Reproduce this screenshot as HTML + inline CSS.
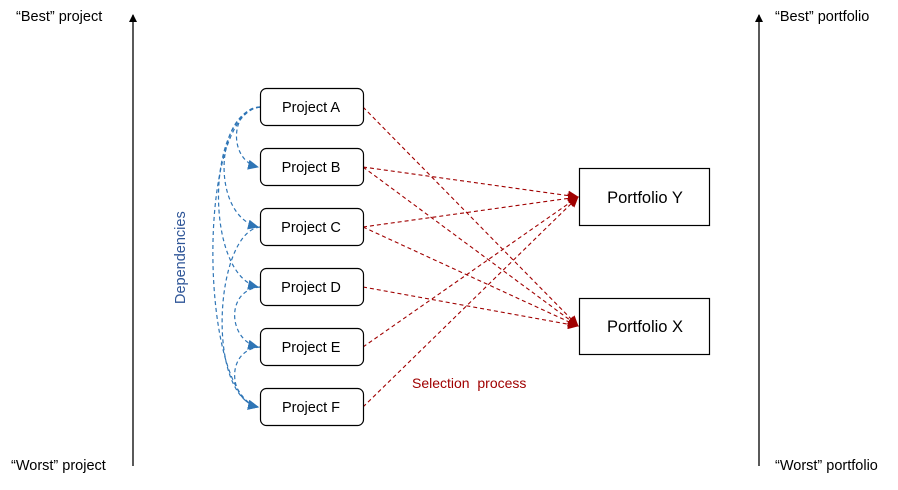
<!DOCTYPE html>
<html><head><style>
body{margin:0;background:#fff;width:898px;height:485px;overflow:hidden}
text{font-family:"Liberation Sans",sans-serif}
</style></head><body>
<svg width="898" height="485" viewBox="0 0 898 485" xmlns="http://www.w3.org/2000/svg">
<defs>
<marker id="ak" markerWidth="8" markerHeight="8" refX="7" refY="4" orient="auto" markerUnits="userSpaceOnUse"><path d="M0,0 L8,4 L0,8 z" fill="#000"/></marker>
<marker id="ar" markerWidth="11" markerHeight="10" refX="10" refY="5" orient="auto" markerUnits="userSpaceOnUse"><path d="M0,0 L11,5 L0,10 z" fill="#a00000"/></marker>
<marker id="ab" markerWidth="11" markerHeight="10" refX="10" refY="5" orient="auto" markerUnits="userSpaceOnUse"><path d="M0,0 L11,5 L0,10 z" fill="#2e75b6"/></marker>
</defs>
<line x1="133" y1="466" x2="133" y2="15" stroke="#000" stroke-width="1.3" marker-end="url(#ak)"/>
<line x1="759" y1="466" x2="759" y2="15" stroke="#000" stroke-width="1.3" marker-end="url(#ak)"/>
<g font-size="14.5" fill="#000">
<text x="16" y="21">“Best” project</text>
<text x="11" y="470">“Worst” project</text>
<text x="775" y="21">“Best” portfolio</text>
<text x="775" y="470">“Worst” portfolio</text>
</g>
<g stroke="#a00000" stroke-width="1.1" stroke-dasharray="4,3" fill="none" marker-end="url(#ar)">
<line x1="363" y1="107" x2="578" y2="326"/>
<line x1="363" y1="167" x2="578" y2="197"/>
<line x1="363" y1="167" x2="578" y2="326"/>
<line x1="363" y1="227" x2="578" y2="197"/>
<line x1="363" y1="227" x2="578" y2="326"/>
<line x1="363" y1="287" x2="578" y2="326"/>
<line x1="363" y1="347" x2="578" y2="197"/>
<line x1="363" y1="407" x2="578" y2="197"/>
</g>
<g stroke="#2e75b6" stroke-width="1.2" stroke-dasharray="4,3" fill="none" marker-end="url(#ab)">
<path d="M260,107 C230,108 228,160 258,167"/>
<path d="M260,107 C215,112 210,215 258,227"/>
<path d="M260,107 C205,115 205,275 258,287"/>
<path d="M260,107 C195,115 200,395 258,407"/>
<path d="M260,227 C215,232 205,395 258,407"/>
<path d="M260,287 C225,290 228,340 258,347"/>
<path d="M260,347 C225,350 228,400 258,407"/>
</g>
<g stroke="#000" stroke-width="1.2" fill="#fff">
<rect x="260.5" y="88.5" width="103" height="37" rx="6"/>
<rect x="260.5" y="148.5" width="103" height="37" rx="6"/>
<rect x="260.5" y="208.5" width="103" height="37" rx="6"/>
<rect x="260.5" y="268.5" width="103" height="37" rx="6"/>
<rect x="260.5" y="328.5" width="103" height="37" rx="6"/>
<rect x="260.5" y="388.5" width="103" height="37" rx="6"/>
<rect x="579.5" y="168.5" width="130" height="57"/>
<rect x="579.5" y="298.5" width="130" height="56"/>
</g>
<g font-size="14.5" fill="#000" text-anchor="middle">
<text x="311" y="112">Project A</text>
<text x="311" y="172">Project B</text>
<text x="311" y="232">Project C</text>
<text x="311" y="292">Project D</text>
<text x="311" y="352">Project E</text>
<text x="311" y="412">Project F</text>
<text x="645" y="203" font-size="16.5">Portfolio Y</text>
<text x="645" y="332" font-size="16.5">Portfolio X</text>
</g>
<text x="412" y="388" font-size="14" fill="#a00000" xml:space="preserve">Selection  process</text>
<text transform="translate(185,304) rotate(-90)" font-size="14.5" fill="#2e5597">Dependencies</text>
</svg>
</body></html>
